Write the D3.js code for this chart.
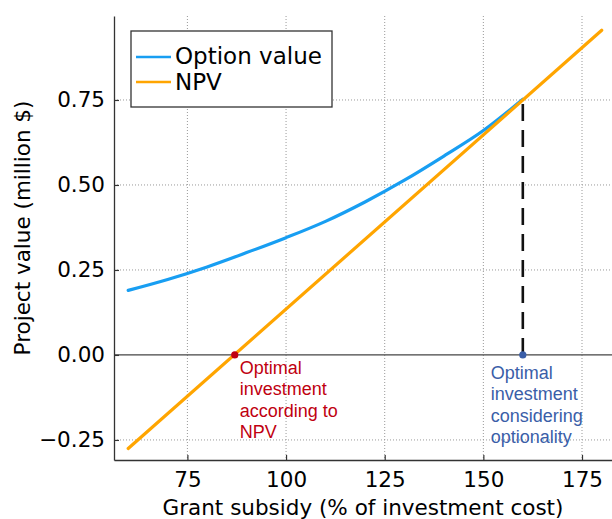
<!DOCTYPE html>
<html>
<head>
<meta charset="utf-8">
<script src="https://d3js.org/d3.v7.min.js"></script>
<style>
  body { margin: 0; background: #fff; }
  text { font-family: "DejaVu Sans", sans-serif; }
</style>
</head>
<body>
<div id="my_dataviz"></div>
<script>

// data
var subsidy = [60, 70, 80, 90, 100, 110, 120, 130, 140, 150, 160];
var optionValue = [0.19, 0.222, 0.259, 0.301, 0.345, 0.393, 0.450, 0.514, 0.585, 0.660, 0.752];
var npvX = [60, 180];
var npvY = [-0.275, 0.955];
var xTicks = [75, 100, 125, 150, 175];
var yTicks = [-0.25, 0, 0.25, 0.5, 0.75];
var npvOptimum = 87;
var optionOptimum = 160;
var optionOptimumValue = 0.752;

var margin = {top: 16, right: 0, bottom: 59, left: 114},
    width = 612 - margin.left - margin.right,
    height = 519 - margin.top - margin.bottom;

var svg = d3.select("#my_dataviz")
  .append("svg")
    .attr("width", 612)
    .attr("height", 519)
  .append("g")
    .attr("transform", "translate(" + margin.left + "," + margin.top + ")");

var x = d3.scaleLinear()
  .domain([56.4, 182.6])
  .range([0, width]);

var y = d3.scaleLinear()
  .domain([-0.309, 0.997])
  .range([height, 0]);

// grid
svg.append("g")
  .selectAll("line")
  .data(xTicks)
  .enter()
  .append("line")
    .attr("x1", function(d) { return x(d) })
    .attr("x2", function(d) { return x(d) })
    .attr("y1", 0)
    .attr("y2", height)
    .attr("stroke", "#999")
    .attr("stroke-width", 1)
    .attr("stroke-dasharray", "1,2");

svg.append("g")
  .selectAll("line")
  .data(yTicks.filter(function(d) { return d != 0 }))
  .enter()
  .append("line")
    .attr("x1", 0)
    .attr("x2", width)
    .attr("y1", function(d) { return y(d) })
    .attr("y2", function(d) { return y(d) })
    .attr("stroke", "#999")
    .attr("stroke-width", 1)
    .attr("stroke-dasharray", "1,2");

// zero line
svg.append("line")
  .attr("x1", 0)
  .attr("x2", width)
  .attr("y1", y(0))
  .attr("y2", y(0))
  .attr("stroke", "#444")
  .attr("stroke-width", 1.3);

// axes with inward ticks
var xAxis = svg.append("g")
  .attr("transform", "translate(0," + height + ")")
  .call(d3.axisBottom(x).tickValues(xTicks).tickSizeInner(-5).tickSizeOuter(0).tickPadding(12));

var yAxis = svg.append("g")
  .call(d3.axisLeft(y).tickValues(yTicks).tickSizeInner(-5).tickSizeOuter(0).tickPadding(9)
    .tickFormat(function(d) { return d3.format(".2f")(d).replace("-", "\u2212") }));

[xAxis, yAxis].forEach(function(a) {
  a.select(".domain").attr("stroke", "#333").attr("stroke-width", 1.3);
  a.selectAll(".tick line").attr("stroke", "#333").attr("stroke-width", 1.2);
  a.selectAll(".tick text")
    .style("font-family", "DejaVu Sans")
    .style("font-size", "21.5px")
    .attr("fill", "#000");
});

svg.append("text")
  .attr("text-anchor", "middle")
  .attr("x", width / 2)
  .attr("y", height + 55)
  .style("font-size", "21.5px")
  .text("Grant subsidy (% of investment cost)");

svg.append("text")
  .attr("text-anchor", "middle")
  .attr("transform", "translate(" + (30 - margin.left) + "," + (228 - margin.top) + ") rotate(-90)")
  .style("font-size", "21.5px")
  .text("Project value (million $)");

// dashed line at the optimum considering optionality
svg.append("line")
  .attr("x1", x(optionOptimum))
  .attr("x2", x(optionOptimum))
  .attr("y1", y(0))
  .attr("y2", y(optionOptimumValue))
  .attr("stroke", "#111")
  .attr("stroke-width", 2.6)
  .attr("stroke-dasharray", "17,9");

// the lines
var optionLine = d3.line()
  .x(function(d, i) { return x(subsidy[i]) })
  .y(function(d) { return y(d) })
  .curve(d3.curveMonotoneX);

svg.append("path")
  .attr("d", optionLine(optionValue))
  .attr("fill", "none")
  .attr("stroke", "#189ef2")
  .attr("stroke-width", 3.2)
  .attr("stroke-linecap", "round");

var npvLine = d3.line()
  .x(function(d, i) { return x(npvX[i]) })
  .y(function(d) { return y(d) });

svg.append("path")
  .attr("d", npvLine(npvY))
  .attr("fill", "none")
  .attr("stroke", "#ffa500")
  .attr("stroke-width", 3.2)
  .attr("stroke-linecap", "round");

// optimum points
svg.append("circle")
  .attr("cx", x(npvOptimum))
  .attr("cy", y(0))
  .attr("r", 3.6)
  .attr("fill", "#c00010");

svg.append("circle")
  .attr("cx", x(optionOptimum))
  .attr("cy", y(0))
  .attr("r", 3.6)
  .attr("fill", "#3a5ea8");

var redLabel = svg.append("text")
  .attr("x", x(npvOptimum) + 5)
  .attr("y", y(0) + 19)
  .style("font-family", "Liberation Sans")
  .style("font-size", "18px")
  .attr("fill", "#c00010");
["Optimal", "investment", "according to", "NPV"].forEach(function(t, i) {
  redLabel.append("tspan").attr("x", x(npvOptimum) + 5).attr("dy", i == 0 ? 0 : 21.3).text(t);
});

var blueLabel = svg.append("text")
  .attr("x", x(optionOptimum) - 32)
  .attr("y", y(0) + 24)
  .style("font-family", "Liberation Sans")
  .style("font-size", "18px")
  .attr("fill", "#3a5ea8");
["Optimal", "investment", "considering", "optionality"].forEach(function(t, i) {
  blueLabel.append("tspan").attr("x", x(optionOptimum) - 32).attr("dy", i == 0 ? 0 : 21.3).text(t);
});

// legend
var legend = svg.append("g")
  .attr("transform", "translate(" + (131 - margin.left) + "," + (31 - margin.top) + ")");

legend.append("rect")
  .attr("width", 201)
  .attr("height", 76)
  .attr("fill", "#fff")
  .attr("stroke", "#333")
  .attr("stroke-width", 1.3);

var legendNames = ["Option value", "NPV"];
var legendColors = ["#189ef2", "#ffa500"];
legendNames.forEach(function(name, i) {
  legend.append("line")
    .attr("x1", 5).attr("x2", 40)
    .attr("y1", 26 + i * 25).attr("y2", 26 + i * 25)
    .attr("stroke", legendColors[i])
    .attr("stroke-width", 2.5);
  legend.append("text")
    .attr("x", 44)
    .attr("y", 33 + i * 26)
    .style("font-size", "23px")
    .text(name);
});

</script>
</body>
</html>
